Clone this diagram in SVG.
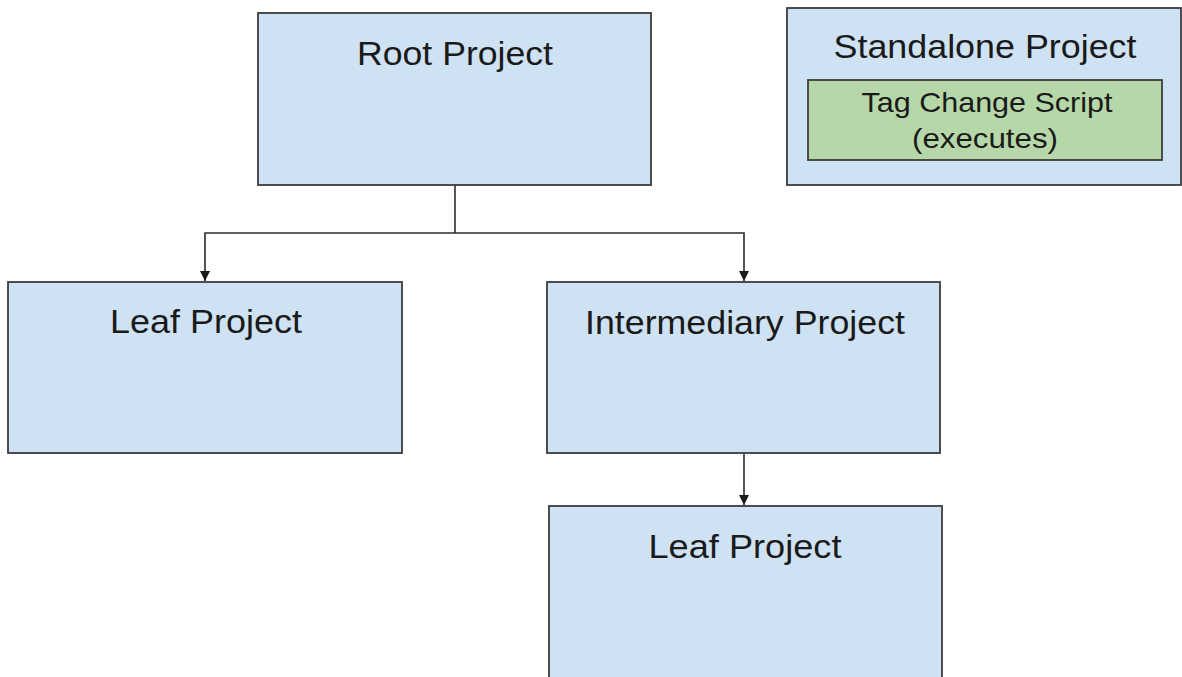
<svg xmlns="http://www.w3.org/2000/svg" width="1182" height="677" viewBox="0 0 1182 677">
<style>
.box{fill:#cfe2f3;stroke:#3c3c3c;stroke-width:1.8}
.green{fill:#b6d7a8;stroke:#3c3c3c;stroke-width:1.8}
.t{font-family:"Liberation Sans",Arial,sans-serif;font-size:33px;fill:#1a1a1a;text-anchor:middle}
.s{font-family:"Liberation Sans",Arial,sans-serif;font-size:28px;fill:#1a1a1a;text-anchor:middle}
.c{fill:none;stroke:#2b2b2b;stroke-width:1.6}
</style>
<defs>
<marker id="ah" viewBox="0 0 10 12" refX="10" refY="6" markerWidth="10" markerHeight="12" markerUnits="userSpaceOnUse" orient="auto">
<path d="M0,1 L10,6 L0,11 Z" fill="#1a1a1a"/>
</marker>
</defs>
<rect width="1182" height="677" fill="#ffffff"/>
<g id="connectors">
<path class="c" d="M455,185 V233"/>
<path class="c" d="M455,233 H205 V281" marker-end="url(#ah)"/>
<path class="c" d="M455,233 H744 V281" marker-end="url(#ah)"/>
<path class="c" d="M744,454 V505" marker-end="url(#ah)"/>
</g>
<g id="root">
<rect class="box" x="258" y="13" width="393" height="172"/>
<text class="t" x="455" y="65" textLength="196" lengthAdjust="spacingAndGlyphs">Root Project</text>
</g>
<g id="standalone">
<rect class="box" x="787" y="8" width="394" height="177"/>
<text class="t" x="985" y="58" textLength="303" lengthAdjust="spacingAndGlyphs">Standalone Project</text>
<g id="tag-change-script">
<rect class="green" x="808" y="80" width="354" height="80"/>
<text class="s" x="987" y="112" textLength="251" lengthAdjust="spacingAndGlyphs">Tag Change Script</text>
<text class="s" x="985" y="148" textLength="146" lengthAdjust="spacingAndGlyphs">(executes)</text>
</g>
</g>
<g id="leaf-left">
<rect class="box" x="8" y="282" width="394" height="171"/>
<text class="t" x="206" y="333" textLength="192" lengthAdjust="spacingAndGlyphs">Leaf Project</text>
</g>
<g id="intermediary">
<rect class="box" x="547" y="282" width="393" height="171"/>
<text class="t" x="745" y="334" textLength="320" lengthAdjust="spacingAndGlyphs">Intermediary Project</text>
</g>
<g id="leaf-bottom">
<rect class="box" x="549" y="506" width="393" height="190"/>
<text class="t" x="745" y="558" textLength="193" lengthAdjust="spacingAndGlyphs">Leaf Project</text>
</g>
</svg>
